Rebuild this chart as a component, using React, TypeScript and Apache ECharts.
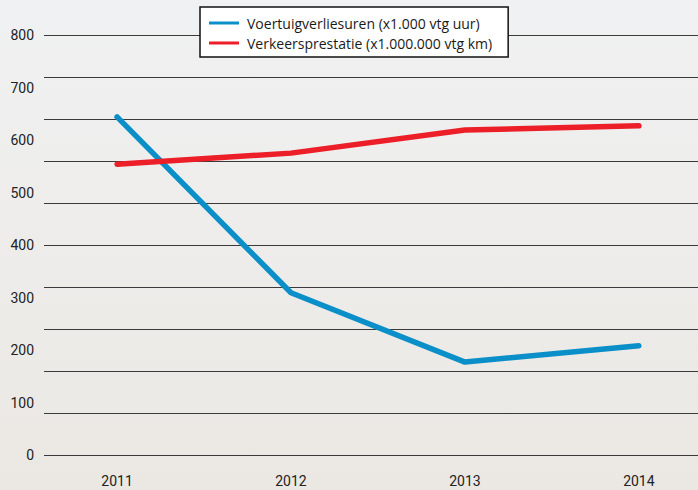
import React, { useEffect, useRef } from "react";
import * as echarts from "echarts";

const years = ["2011", "2012", "2013", "2014"];
const voertuigverliesuren = [644, 309, 177, 208];
const verkeersprestatie = [554, 575, 619, 627];
const seriesNames = [
  "Voertuigverliesuren (x1.000 vtg uur)",
  "Verkeersprestatie (x1.000.000 vtg km)",
];

export default function App() {
  const ref = useRef<HTMLDivElement>(null);
  useEffect(() => {
    if (!ref.current) return;
    const chart = echarts.init(ref.current, undefined, { renderer: "svg" });
    const font = "Roboto";
    const yearIdx = years.map((_, i) => i);
    chart.setOption({
      animation: false,
      backgroundColor: new echarts.graphic.LinearGradient(0, 0, 0, 1, [
        { offset: 0, color: "#f0f1f2" },
        { offset: 1, color: "#ebe8e3" },
      ]),
      textStyle: { fontFamily: font },
      legend: {
        orient: "vertical",
        left: 200,
        top: 7,
        padding: [9, 16, 7, 9],
        backgroundColor: "#ffffff",
        borderColor: "#111",
        borderWidth: 1.5,
        borderRadius: 0,
        itemWidth: 30,
        itemHeight: 3,
        itemGap: 6,
        icon: "rect",
        textStyle: {
          fontFamily: "Open Sans",
          fontSize: 14,
          color: "#1a1a1a",
          lineHeight: 14,
          padding: [0, 0, 0, 3],
        },
        data: seriesNames,
      },
      grid: [{ left: 44, right: 0, top: 35, bottom: 35 }],
      xAxis: [
        {
          type: "value",
          min: -0.42,
          max: 3.34,
          axisLine: { show: false },
          axisTick: { show: false },
          splitLine: { show: false },
          axisLabel: {
            customValues: yearIdx,
            formatter: (v: number) => years[Math.round(v)] ?? "",
            margin: 19,
            fontSize: 14,
            color: "#222",
            fontFamily: font,
          },
        },
      ],
      yAxis: [
        {
          type: "value",
          position: "left",
          min: 0,
          max: 800,
          interval: 80,
          axisLabel: { show: false },
          axisLine: { show: false },
          axisTick: { show: false },
          splitLine: { show: true, lineStyle: { color: "#3a3a3a", width: 1.2 } },
        },
        {
          type: "value",
          position: "left",
          offset: 0,
          min: 0,
          max: 800,
          interval: 100,
          axisLabel: { margin: 10, fontSize: 14, color: "#222", fontFamily: font },
          axisLine: { show: false },
          axisTick: { show: false },
          splitLine: { show: false },
        },
      ],
      series: [
        {
          name: seriesNames[0],
          type: "line",
          yAxisIndex: 1,
          data: voertuigverliesuren.map((v, i) => [i, v]),
          showSymbol: false,
          color: "#0b8fc9",
          lineStyle: { width: 5.5, cap: "round", join: "round" },
        },
        {
          name: seriesNames[1],
          type: "line",
          yAxisIndex: 1,
          data: verkeersprestatie.map((v, i) => [i, v]),
          showSymbol: false,
          color: "#ec1f28",
          lineStyle: { width: 5.5, cap: "round", join: "round" },
        },
      ],
    });
    return () => chart.dispose();
  }, []);
  return <div ref={ref} style={{ width: 698, height: 490, position: "fixed", left: 0, top: 0 }} />;
}
